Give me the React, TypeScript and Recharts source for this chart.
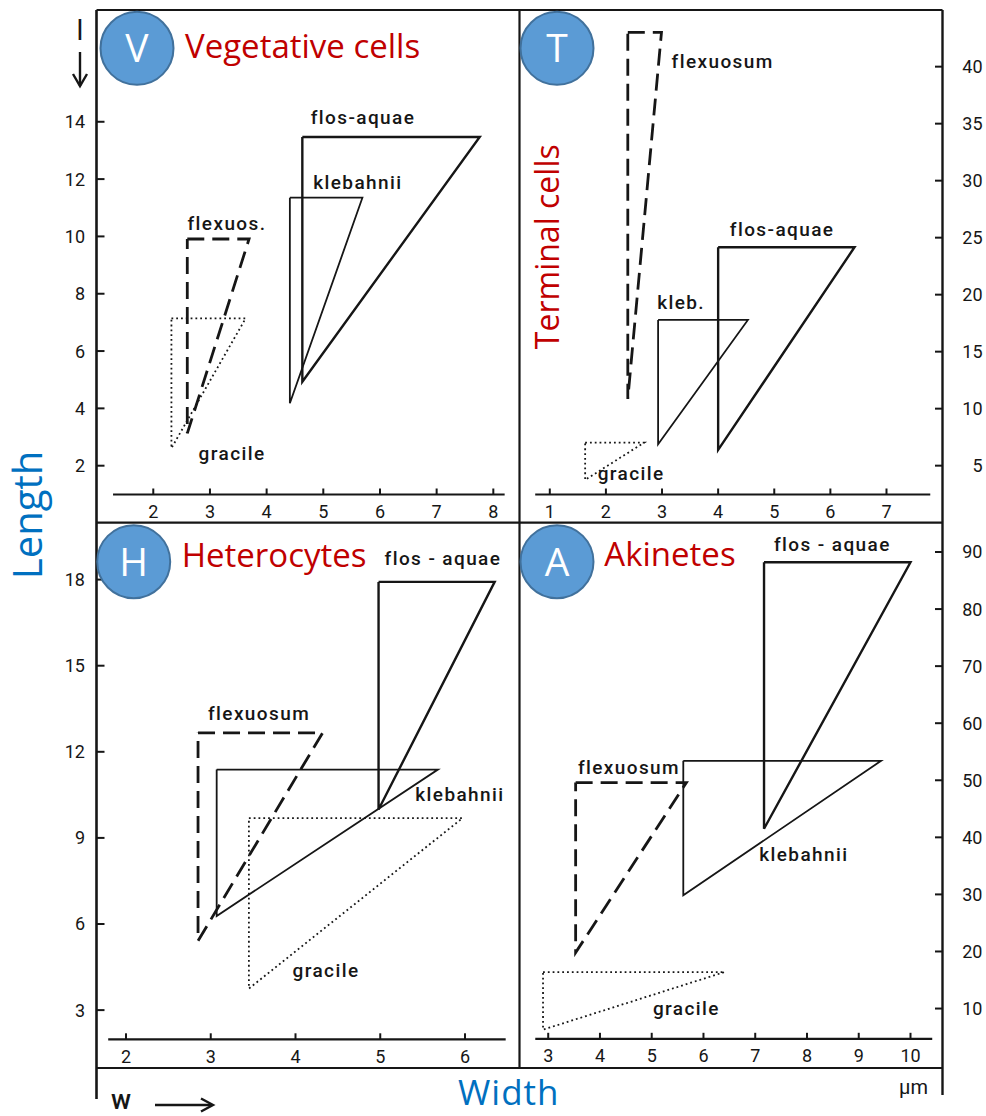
import React from 'react'
import { LineChart, Line, XAxis, YAxis, ReferenceLine, ReferenceDot } from 'recharts'

const PAGE_W = 986
const PAGE_H = 1116

const INK = '#161616'
const RED = '#c00000'
const BLUE = '#0070c0'
const BADGE = '#5b9bd5'
const BADGE_EDGE = '#41719c'
const LABEL_FONT = 'Roboto, "DejaVu Sans", sans-serif'
const TITLE_FONT = '"Open Sans", "Noto Sans", sans-serif'

// species order in every panel: flos-aquae, klebahnii, flexuosum, gracile
// each range is drawn as a triangle: (wMin,lMax) (wMax,lMax) (wMin,lMin)

// V - vegetative cells (µm)
const vegWidthMin = [4.63, 4.41, 2.6, 2.32]
const vegWidthMax = [7.76, 5.69, 3.69, 3.63]
const vegLengthMin = [4.93, 4.18, 3.13, 2.61]
const vegLengthMax = [13.47, 11.35, 9.91, 7.14]
const vegNames = ['flos-aquae', 'klebahnii', 'flexuos.', 'gracile']
const vegNameAt = [[5.7, 14.16], [5.61, 11.9], [3.3, 10.47], [3.39, 2.44]]
const vegWidthTicks = [2, 3, 4, 5, 6, 7, 8]
const vegLengthTicks = [2, 4, 6, 8, 10, 12, 14]

// T - terminal cells
const termWidthMin = [4.0, 2.93, 2.39, 1.63]
const termWidthMax = [6.43, 4.53, 2.99, 2.68]
const termLengthMin = [6.38, 6.88, 10.85, 3.75]
const termLengthMax = [24.16, 17.78, 43.0, 7.02]
const termNames = ['flos-aquae', 'kleb.', 'flexuosum', 'gracile']
const termNameAt = [[5.14, 25.74], [3.34, 19.3], [4.08, 40.44], [2.45, 4.33]]
const termWidthTicks = [1, 2, 3, 4, 5, 6, 7]
const termLengthTicks = [5, 10, 15, 20, 25, 30, 35, 40]

// H - heterocytes
const hetWidthMin = [4.98, 3.07, 2.85, 3.45]
const hetWidthMax = [6.35, 5.68, 4.32, 5.97]
const hetLengthMin = [9.99, 6.28, 5.41, 3.75]
const hetLengthMax = [17.92, 11.38, 12.66, 9.69]
const hetNames = ['flos - aquae', 'klebahnii', 'flexuosum', 'gracile']
const hetNameAt = [[5.74, 18.73], [5.94, 10.52], [3.57, 13.35], [4.36, 4.39]]
const hetWidthTicks = [2, 3, 4, 5, 6]
const hetLengthTicks = [3, 6, 9, 12, 15, 18]

// A - akinetes
const akiWidthMin = [7.17, 5.61, 3.53, 2.9]
const akiWidthMax = [10.0, 9.43, 5.67, 6.41]
const akiLengthMin = [41.5, 29.85, 19.8, 6.3]
const akiLengthMax = [88.2, 53.4, 49.6, 16.4]
const akiNames = ['flos - aquae', 'klebahnii', 'flexuosum', 'gracile']
const akiNameAt = [[8.49, 91.35], [7.94, 36.98], [4.56, 52.2], [5.67, 10.0]]
const akiWidthTicks = [3, 4, 5, 6, 7, 8, 9, 10]
const akiLengthTicks = [10, 20, 30, 40, 50, 60, 70, 80, 90]

const SPECIES_STYLE = [
  { strokeWidth: 2.4 },
  { strokeWidth: 1.8 },
  { strokeWidth: 2.8, strokeDasharray: '17 8' },
  { strokeWidth: 1.8, strokeDasharray: '1.8 3' },
]

interface PanelDef {
  wMin: number[]
  wMax: number[]
  lMin: number[]
  lMax: number[]
  names: string[]
  nameAt: number[][]
  xTicks: number[]
  yTicks: number[]
  xDomain: [number, number]
  yDomain: [number, number]
  axisSpan: [number, number]
  plot: { left: number; right: number; top: number; bottom: number }
  side: 'left' | 'right'
}

const PANELS: PanelDef[] = [
  {
    wMin: vegWidthMin, wMax: vegWidthMax, lMin: vegLengthMin, lMax: vegLengthMax,
    names: vegNames, nameAt: vegNameAt, xTicks: vegWidthTicks, yTicks: vegLengthTicks,
    xDomain: [0.998, 8.462], yDomain: [0.995, 17.9], axisSpan: [1.29, 8.2],
    plot: { left: 96.5, right: 519.5, top: 10, bottom: 494.5 }, side: 'left',
  },
  {
    wMin: termWidthMin, wMax: termWidthMax, lMin: termLengthMin, lMax: termLengthMax,
    names: termNames, nameAt: termNameAt, xTicks: termWidthTicks, yTicks: termLengthTicks,
    xDomain: [0.469, 8.007], yDomain: [2.47, 44.97], axisSpan: [0.74, 7.78],
    plot: { left: 519.5, right: 942.5, top: 10, bottom: 494.5 }, side: 'right',
  },
  {
    wMin: hetWidthMin, wMax: hetWidthMax, lMin: hetLengthMin, lMax: hetLengthMax,
    names: hetNames, nameAt: hetNameAt, xTicks: hetWidthTicks, yTicks: hetLengthTicks,
    xDomain: [1.652, 6.643], yDomain: [1.983, 19.972], axisSpan: [1.79, 6.48],
    plot: { left: 96.5, right: 519.5, top: 522.7, bottom: 1039 }, side: 'left',
  },
  {
    wMin: akiWidthMin, wMax: akiWidthMax, lMin: akiLengthMin, lMax: akiLengthMax,
    names: akiNames, nameAt: akiNameAt, xTicks: akiWidthTicks, yTicks: akiLengthTicks,
    xDomain: [2.455, 10.628], yDomain: [4.7, 95.08], axisSpan: [2.75, 10.42],
    plot: { left: 519.5, right: 942.5, top: 522.7, bottom: 1038.5 }, side: 'right',
  },
]

const TICK_IN = 8
const LEFT_GAP = 11.5
const RIGHT_GAP = 39.5
const BOTTOM_GAP = 17

const tickText = { fontSize: 18, fontFamily: LABEL_FONT, fill: INK }

function LeftTick(props: any) {
  const { x, y, payload } = props
  const ax = x + LEFT_GAP
  return (
    <g>
      <line x1={ax} x2={ax + TICK_IN} y1={y} y2={y} stroke={INK} strokeWidth={2} />
      <text x={x} y={y} dy="0.36em" textAnchor="end" {...tickText}>{payload.value}</text>
    </g>
  )
}

function RightTick(props: any) {
  const { x, y, payload } = props
  const ax = x - RIGHT_GAP
  return (
    <g>
      <line x1={ax - TICK_IN} x2={ax} y1={y} y2={y} stroke={INK} strokeWidth={2} />
      <text x={x} y={y} dy="0.36em" textAnchor="end" {...tickText}>{payload.value}</text>
    </g>
  )
}

function BottomTick(props: any) {
  const { x, y, payload } = props
  const ay = y - BOTTOM_GAP
  return (
    <g>
      <line x1={x} x2={x} y1={ay} y2={ay - 6} stroke={INK} strokeWidth={2} />
      <text x={x} y={y} dy="0.36em" textAnchor="middle" {...tickText}>{payload.value}</text>
    </g>
  )
}

function Panel({ def }: { def: PanelDef }) {
  const { plot } = def
  const padTop = 12
  const xAxisH = 30
  const isLeft = def.side === 'left'
  const chartLeft = isLeft ? 0 : plot.left
  const chartWidth = isLeft ? plot.right : PAGE_W - plot.left
  const yAxisW = isLeft ? plot.left : PAGE_W - plot.right
  const chartTop = plot.top - padTop
  const chartHeight = plot.bottom - chartTop + xAxisH

  const triangles = def.wMin.map((_, i) => [
    { w: def.wMin[i], l: def.lMax[i] },
    { w: def.wMax[i], l: def.lMax[i] },
    { w: def.wMin[i], l: def.lMin[i] },
    { w: def.wMin[i], l: def.lMax[i] },
  ])
  const baseL = def.yDomain[0]

  return (
    <div style={{ position: 'absolute', left: chartLeft, top: chartTop }}>
      <LineChart
        width={chartWidth}
        height={chartHeight}
        margin={{ top: padTop, right: 0, bottom: 0, left: 0 }}
      >
        <XAxis
          type="number"
          dataKey="w"
          domain={def.xDomain}
          ticks={def.xTicks}
          interval={0}
          allowDataOverflow
          axisLine={false}
          tickLine={false}
          tickSize={0}
          tickMargin={BOTTOM_GAP}
          height={xAxisH}
          tick={(p: any) => <BottomTick {...p} />}
        />
        <YAxis
          type="number"
          orientation={def.side}
          domain={def.yDomain}
          ticks={def.yTicks}
          interval={0}
          allowDataOverflow
          axisLine={false}
          tickLine={false}
          tickSize={0}
          tickMargin={isLeft ? LEFT_GAP : RIGHT_GAP}
          width={yAxisW}
          tick={(p: any) => (isLeft ? <LeftTick {...p} /> : <RightTick {...p} />)}
        />
        <ReferenceLine
          segment={[{ x: def.axisSpan[0], y: baseL }, { x: def.axisSpan[1], y: baseL }]}
          stroke={INK}
          strokeWidth={2.2}
          ifOverflow="visible"
        />
        {triangles.map((pts, i) => (
          <Line
            key={def.names[i]}
            data={pts}
            dataKey="l"
            type="linear"
            stroke={INK}
            fill="none"
            strokeLinejoin="miter"
            dot={false}
            activeDot={false}
            isAnimationActive={false}
            {...SPECIES_STYLE[i]}
          />
        ))}
        {def.names.map((n, i) => (
          <ReferenceDot
            key={'lab-' + n}
            x={def.nameAt[i][0]}
            y={def.nameAt[i][1]}
            r={0}
            stroke="none"
            fill="none"
            ifOverflow="visible"
            label={{
              value: n,
              position: 'center',
              fill: INK,
              fontSize: 19,
              fontWeight: 500,
              fontFamily: LABEL_FONT,
              letterSpacing: 1.4,
            }}
          />
        ))}
      </LineChart>
    </div>
  )
}

const BADGES = [
  { cx: 137, cy: 48.3, letter: 'V' },
  { cx: 557, cy: 48.3, letter: 'T' },
  { cx: 133.7, cy: 561.7, letter: 'H' },
  { cx: 557, cy: 561.7, letter: 'A' },
]

function Overlay() {
  return (
    <svg
      width={PAGE_W}
      height={PAGE_H}
      style={{ position: 'absolute', left: 0, top: 0, pointerEvents: 'none' }}
    >
      <g stroke={INK} fill="none">
        <path d="M96.5 10 V1099" strokeWidth={2.6} />
        <path d="M96.5 10 H942.5" strokeWidth={2.2} />
        <path d="M519.5 10 V1068" strokeWidth={2.2} />
        <path d="M942.5 10 V1095" strokeWidth={2.4} />
        <path d="M96.5 522.7 H942.5" strokeWidth={2.2} />
        <path d="M96.5 1068 H942.5" strokeWidth={2.2} />
        {/* l ↓ and w → direction marks */}
        <path d="M80 52 V86" strokeWidth={2.4} />
        <path d="M73 74 L80 86 L87 74" strokeWidth={2.4} />
        <path d="M155 1105 H212" strokeWidth={2.4} />
        <path d="M201 1098.5 L213 1105 L201 1111.5" strokeWidth={2.4} />
      </g>
      <text x={80} y={40} textAnchor="middle" fontSize={28} fontFamily={LABEL_FONT} fill={INK}>l</text>
      <text x={111} y={1109} fontSize={27} fontWeight={500} fontFamily={LABEL_FONT} fill={INK}>w</text>
      <text x={928} y={1094} textAnchor="end" fontSize={20} fontFamily={LABEL_FONT} fill={INK}>μm</text>

      {BADGES.map((b) => (
        <g key={b.letter}>
          <circle cx={b.cx} cy={b.cy} r={36.5} fill={BADGE} stroke={BADGE_EDGE} strokeWidth={2} />
          <text
            x={b.cx}
            y={b.cy + 14}
            textAnchor="middle"
            fontSize={39}
            fontFamily={TITLE_FONT}
            fill="#ffffff"
          >
            {b.letter}
          </text>
        </g>
      ))}

      <g fontFamily={TITLE_FONT} fill={RED} fontSize={33}>
        <text x={185} y={58.3}>Vegetative cells</text>
        <text x={181.7} y={566.7}>Heterocytes</text>
        <text x={604.3} y={565.7}>Akinetes</text>
        <text transform="translate(559 246.7) rotate(-90)" textAnchor="middle" fontSize={32}>
          Terminal cells
        </text>
      </g>
      <g fontFamily={TITLE_FONT} fill={BLUE}>
        <text transform="translate(42 515) rotate(-90)" textAnchor="middle" fontSize={40}>
          Length
        </text>
        <text x={458} y={1105} fontSize={35} letterSpacing={1}>Width</text>
      </g>
    </svg>
  )
}

export default function App() {
  return (
    <div
      style={{
        position: 'absolute',
        left: 0,
        top: 0,
        width: PAGE_W,
        height: PAGE_H,
        background: '#ffffff',
        overflow: 'hidden',
      }}
    >
      {PANELS.map((p, i) => (
        <Panel key={i} def={p} />
      ))}
      <Overlay />
    </div>
  )
}
